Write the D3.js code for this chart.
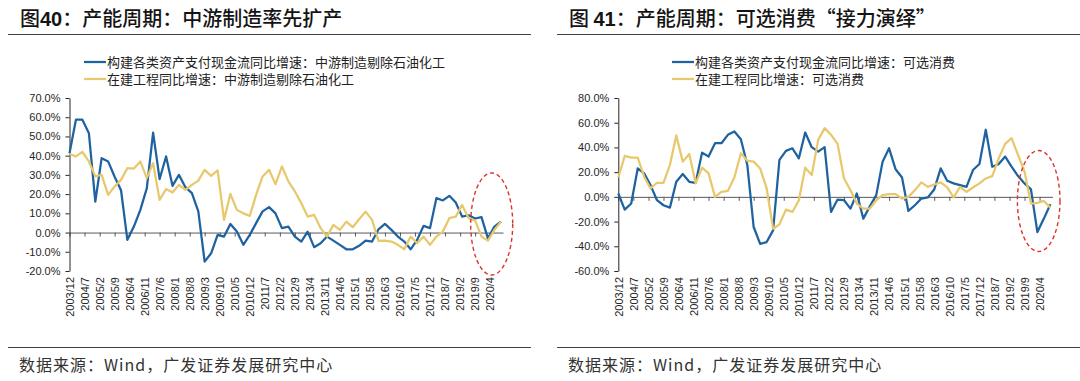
<!DOCTYPE html>
<html>
<head>
<meta charset="utf-8">
<script src="https://cdn.jsdelivr.net/npm/d3@7"></script>
<style>
  html, body { margin: 0; padding: 0; background: #fff; }
  svg { display: block; }
</style>
</head>
<body>
<div id="chart"></div>
<script>
// quarterly observations, 2003/12 .. 2020/9
const quarters = d3.timeMonth.range(new Date(2003, 11, 1), new Date(2020, 9, 1), 3);

const xTickLabels = ["2003/12", "2004/7", "2005/2", "2005/9", "2006/4", "2006/11", "2007/6", "2008/1",
    "2008/8", "2009/3", "2009/10", "2010/5", "2010/12", "2011/7", "2012/2", "2012/9", "2013/4",
    "2013/11", "2014/6", "2015/1", "2015/8", "2016/3", "2016/10", "2017/5", "2017/12", "2018/7",
    "2019/2", "2019/9", "2020/4"];

const leftYTicks = [-20, -10, 0, 10, 20, 30, 40, 50, 60, 70];
const rightYTicks = [-60, -40, -20, 0, 20, 40, 60, 80];

// 中游制造剔除石油化工
const midCapex = [41.3, 58.7, 58.7, 51.7, 16.1, 38.7, 37, 29, 22, -3.8,
    3.1, 11.8, 23, 52, 27.8, 39.6, 24.3, 30, 23.6, 20.5,
    11, -15.1, -10.8, -1.2, -2.1, 4.5, 0.5, -6.4, -1.2, 4.9,
    11, 13.2, 10, 2.3, 3.1, -2.1, -4.7, 0.5, -7.6, -5.6,
    -2.1, -4.2, -6.4, -8.7, -8.7, -6.9, -4.2, -4.7, 1.7, 4.5,
    1.4, -2.1, -4.7, -8.7, -3.8, 3.5, 2.3, 17.9, 16.7, 19.1,
    15.6, 8.3, 9, 7.3, 8, -3, 3.1, 5.7];
const midCip = [41, 39.6, 42, 37, 29.2, 30, 19.6, 24, 27.4, 33.5,
    33.3, 37, 28.3, 36.1, 17, 22.6, 20.8, 24.8, 22.2, 24.8,
    27, 32.6, 29.5, 32.3, 6.6, 20.1, 11.8, 10, 8.7, 19.6,
    29.2, 32.6, 25.2, 34.4, 26.6, 21.4, 15.3, 8.3, 9.2, 2.3,
    -2.1, 4, 1.4, 5.7, 2.8, 6.9, 10.9, 6.6, -4.3, -4.2,
    -4.7, -6.4, -8.7, -2.1, -5.6, -2.1, -6.4, -2.1, 0.5, 7.5,
    8.3, 14.4, 7.5, 6.3, -2.1, -4.2, 1.4, 5.7];

// 可选消费
const consCapex = [2.7, -10.3, -5.4, 23, 19, 9.5, -2.7, -6.8, -8.7, 12.2,
    18.5, 12.2, 11.4, 35.8, 32.6, 43.4, 43.4, 50.2, 52.9, 46.7,
    25.8, -24.4, -38, -36.6, -27.1, 29.9, 37.2, 39.3, 31.2, 52.1,
    40.2, 36.6, 40.2, -12.2, -2.2, -2.7, -9.5, 2.7, -17.6, -7.6,
    1.4, 28.5, 39.3, 22.3, 15.7, -11.4, -6.8, -1.4, -0.5, 6,
    23, 13, 10.9, 9.5, 8.1, 21.7, 26.6, 54.3, 24.4, 26.6,
    32.6, 24.4, 16.8, 10.9, 6, -28.5, -17.6, -6];
const consCip = [15.7, 33.1, 31.8, 31.8, 16.3, 6.8, 11.4, 11.4, 25.8, 49.7,
    28.5, 34.7, 10.9, 23.6, 19, 0, 4.1, 4.9, 15.7, 35.3,
    29.3, 28.5, 23, 6.8, -25.8, -22.3, -10.3, -12.2, -2.7, 23.6,
    17.6, 46.1, 55.6, 50.2, 42.9, 14.9, 5.4, -5.4, -9.5, -9.5,
    -2.7, 1.4, 2.2, 2.2, -1.4, 0, 5.4, 11.7, 8.1, 10,
    11.7, 7.6, -0.5, 8.1, 4.1, 7.6, 10.9, 14.9, 16.8, 31.2,
    42.9, 47.5, 33.9, 20.4, -5.4, -4.9, -3.3, -8.7];

const blue = "#1f62a0";
const gold = "#e7c86c";
const cjk = "'Noto Sans CJK SC', 'Noto Sans', sans-serif";
const num = "'Liberation Sans', Arial, sans-serif";

const W = 1080, H = 381;
const parseMonth = d3.timeParse("%Y/%m");
const tickDates = xTickLabels.map(parseMonth);

const svg = d3.select("#chart").append("svg")
    .attr("width", W)
    .attr("height", H);

function drawPanel(cfg) {
    const g = svg.append("g");

    // header
    const title = g.append("text")
        .attr("x", cfg.titleX)
        .attr("y", 26)
        .attr("fill", "#141414")
        .style("font-family", cjk)
        .style("font-weight", 500)
        .style("font-size", "20px");
    title.append("tspan").text(cfg.titlePre);
    title.append("tspan").text(cfg.titleNum)
        .style("font-family", num)
        .style("font-weight", "bold");
    title.append("tspan").text(cfg.titleRest);

    g.append("line")
        .attr("x1", cfg.ruleX[0]).attr("x2", cfg.ruleX[1])
        .attr("y1", 34.5).attr("y2", 34.5)
        .attr("stroke", "#404040").attr("stroke-width", 1);

    // legend
    cfg.series.forEach(function(s, i) {
        const ly = 62 + i * 17;
        g.append("line")
            .attr("x1", cfg.legendX).attr("x2", cfg.legendX + 22)
            .attr("y1", ly).attr("y2", ly)
            .attr("stroke", s.color).attr("stroke-width", 2.25);
        g.append("text")
            .attr("x", cfg.legendX + 23)
            .attr("y", ly)
            .attr("dy", "0.35em")
            .attr("fill", "#222")
            .style("font-family", cjk)
            .style("font-size", "13px")
            .text(s.name);
    });

    const x = d3.scaleTime()
        .domain([new Date(2003, 11, 1), new Date(2020, 9, 1)])
        .range(cfg.xRange);

    const y = d3.scaleLinear()
        .domain(cfg.yDomain)
        .range([271, 98]);

    // zero line with ticks
    const xAxis = g.append("g")
        .attr("transform", "translate(0," + y(0) + ")")
        .call(d3.axisBottom(x).tickValues(tickDates).tickSize(4).tickSizeOuter(0).tickFormat(""));
    xAxis.select(".domain").attr("stroke", "#595959");
    xAxis.selectAll(".tick line").attr("stroke", "#595959");

    // date labels at the bottom
    const xLabels = g.append("g")
        .attr("transform", "translate(0,271)")
        .call(d3.axisBottom(x).tickValues(tickDates).tickSize(0)
            .tickFormat(function(d, i) { return xTickLabels[i]; }));
    xLabels.select(".domain").remove();
    xLabels.selectAll("text")
        .attr("y", 0)
        .attr("x", -6)
        .attr("dy", "0.35em")
        .attr("transform", "rotate(-90)")
        .attr("fill", "#262626")
        .style("text-anchor", "end")
        .style("font-family", num)
        .style("font-size", "11px");

    const yAxis = g.append("g")
        .attr("transform", "translate(" + cfg.xRange[0] + ",0)")
        .call(d3.axisLeft(y).tickValues(cfg.yTicks).tickSize(4).tickPadding(5).tickSizeOuter(0)
            .tickFormat(function(d) { return d.toFixed(1) + "%"; }));
    yAxis.select(".domain").attr("stroke", "#262626");
    yAxis.selectAll(".tick line").attr("stroke", "#262626");
    yAxis.selectAll("text")
        .attr("fill", "#262626")
        .style("font-family", num)
        .style("font-size", "11px");

    const line = d3.line()
        .x(function(d, i) { return x(quarters[i]); })
        .y(function(d) { return y(d); });

    cfg.series.forEach(function(s) {
        g.append("path")
            .datum(s.values)
            .attr("fill", "none")
            .attr("stroke", s.color)
            .attr("stroke-width", 2.25)
            .attr("stroke-linejoin", "round")
            .attr("d", line);
    });

    // highlight of the latest quarters
    g.append("ellipse")
        .attr("cx", cfg.ring[0]).attr("cy", cfg.ring[1])
        .attr("rx", cfg.ring[2]).attr("ry", cfg.ring[3])
        .attr("fill", "none")
        .attr("stroke", "#e0302c")
        .attr("stroke-width", 1.4)
        .attr("stroke-dasharray", "4,3");

    // footer
    g.append("line")
        .attr("x1", cfg.ruleX[0]).attr("x2", cfg.ruleX[1])
        .attr("y1", 347.5).attr("y2", 347.5)
        .attr("stroke", "#404040").attr("stroke-width", 1);

    g.append("text")
        .attr("x", cfg.titleX - 1)
        .attr("y", 371)
        .attr("fill", "#333")
        .style("font-family", cjk)
        .style("font-size", "16px")
        .style("letter-spacing", "1px")
        .text("数据来源：Wind，广发证券发展研究中心");
}

drawPanel({
    titleX: 20,
    titlePre: "图",
    titleNum: "40",
    titleRest: "：产能周期：中游制造率先扩产",
    ruleX: [8, 531],
    legendX: 84,
    xRange: [69.5, 503],
    yDomain: [-20, 70],
    yTicks: leftYTicks,
    ring: [491.7, 224, 21, 51],
    series: [
        { name: "构建各类资产支付现金流同比增速：中游制造剔除石油化工", values: midCapex, color: blue },
        { name: "在建工程同比增速：中游制造剔除石油化工", values: midCip, color: gold }
    ]
});

drawPanel({
    titleX: 569,
    titlePre: "图 ",
    titleNum: "41",
    titleRest: "：产能周期：可选消费“接力演绎”",
    ruleX: [557, 1080],
    legendX: 672,
    xRange: [618.3, 1052.5],
    yDomain: [-60, 80],
    yTicks: rightYTicks,
    ring: [1038.7, 201, 21.3, 50.5],
    series: [
        { name: "构建各类资产支付现金流同比增速：可选消费", values: consCapex, color: blue },
        { name: "在建工程同比增速：可选消费", values: consCip, color: gold }
    ]
});
</script>
</body>
</html>
